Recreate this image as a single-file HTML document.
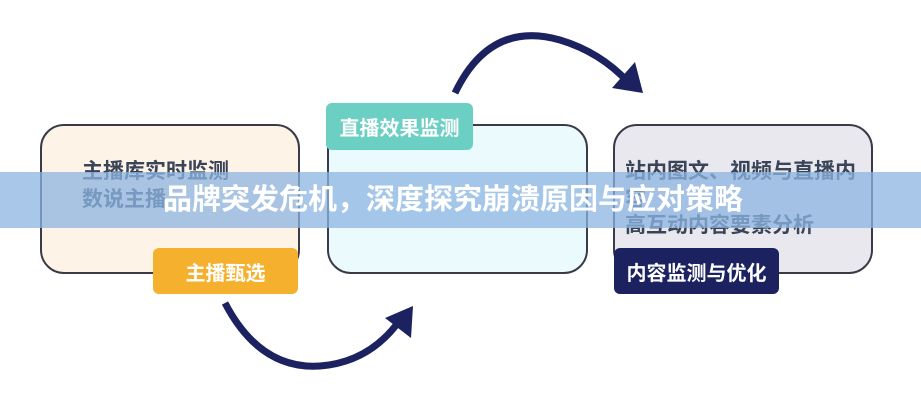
<!DOCTYPE html>
<html><head><meta charset="utf-8"><style>
body{margin:0;width:921px;height:400px;background:#fff;position:relative;overflow:hidden;font-family:"Liberation Sans","Noto Sans CJK SC",sans-serif;}
.box{position:absolute;border:2px solid #3a3a48;border-radius:24px;box-sizing:border-box;}
.lab{position:absolute;border-radius:6px;color:#fff;font-weight:bold;font-size:20px;display:flex;align-items:center;justify-content:center;}
.t{position:absolute;font-weight:bold;font-size:21px;color:#3a4458;white-space:nowrap;line-height:24px;}
.band{position:absolute;left:0;top:172px;width:921px;height:56px;background:rgba(140,180,225,0.75);}
.bt{position:absolute;left:163px;top:182px;font-size:29px;line-height:36px;font-weight:bold;color:#fff;white-space:nowrap;}
</style></head><body>
<div class="box" style="left:40px;top:124px;width:260px;height:150px;background:#fdf3e6"></div>
<div class="box" style="left:327px;top:124px;width:261px;height:150px;background:#eafafd"></div>
<div class="box" style="left:613px;top:124px;width:260px;height:150px;background:#e8e8ee"></div>
<div class="t" style="left:82px;top:160px">主播库实时监测</div>
<div class="t" style="left:82px;top:188px">数说主播</div>
<div class="t" style="left:625px;top:160px">站内图文、视频与直播内</div>
<div class="t" style="left:625px;top:188px">容</div>
<div class="t" style="left:625px;top:214px">高互动内容要素分析</div>
<div class="lab" style="left:326px;top:103px;width:147px;height:47px;background:#6ccfc3">直播效果监测</div>
<div class="lab" style="left:153px;top:248px;width:145px;height:46px;background:#f5b02e">主播甄选</div>
<div class="lab" style="left:614px;top:248px;width:165px;height:46px;background:#1c2260">内容监测与优化</div>
<svg width="921" height="400" style="position:absolute;left:0;top:0">
<path d="M455 93 Q490 20 560 40 Q600 52 628 82" fill="none" stroke="#1c2260" stroke-width="7"/>
<polygon points="643,93 612,88 635,62" fill="#1c2260"/>
<path d="M225 303 Q260 370 320 366 Q370 362 400 320" fill="none" stroke="#1c2260" stroke-width="7"/>
<polygon points="413,306 411,338 385,318" fill="#1c2260"/>
</svg>
<div class="band"></div>
<div class="bt">品牌突发危机，深度探究崩溃原因与应对策略</div>
</body></html>
